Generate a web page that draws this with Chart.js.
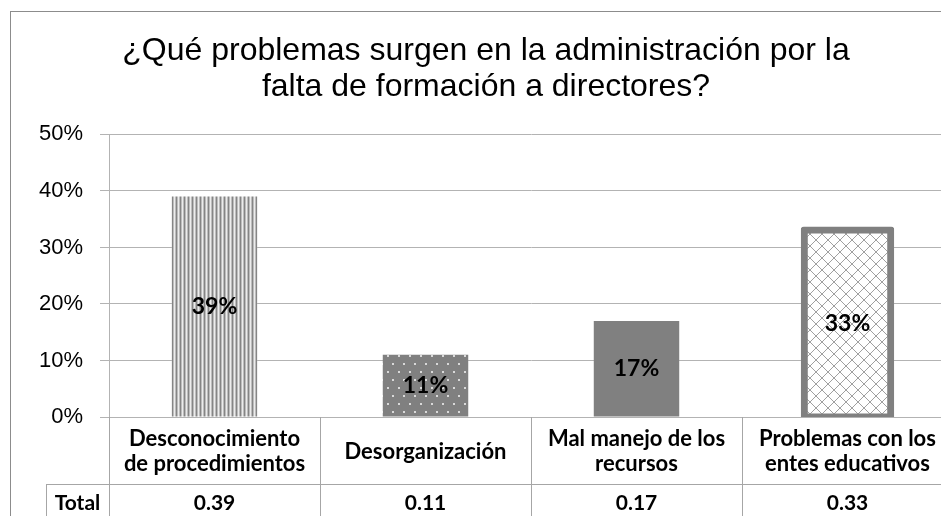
<!DOCTYPE html>
<html>
<head>
<meta charset="utf-8">
<script src="https://cdn.jsdelivr.net/npm/chart.js@4.4.1/dist/chart.umd.min.js"></script>
<style>
  html, body { margin: 0; padding: 0; overflow: hidden; background: #fff; }
  #wrap { position: relative; width: 970px; height: 516px; }
</style>
</head>
<body>
<div id="wrap"><canvas id="chart"></canvas></div>
<script>
// problemas por falta de formación a directores

const titleLines = ['¿Qué problemas surgen en la administración por la', 'falta de formación a directores?'];
const categories = [
  'Desconocimiento de procedimientos',
  'Desorganización',
  'Mal manejo de los recursos',
  'Problemas con los entes educativos'
];
const tickLabels = [
  ['Desconocimiento', 'de procedimientos'],
  ['Desorganización'],
  ['Mal manejo de los', 'recursos'],
  ['Problemas con los', 'entes educativos']
];
const values = [0.39, 0.11, 0.17, 0.33];
const yTicks = [0, 0.1, 0.2, 0.3, 0.4, 0.5];
const rowLabel = 'Total';

const LABEL_FONT = 'Lato';
const ctx = document.getElementById('chart').getContext('2d');

function makePattern(w, h, paint) {
  const c = document.createElement('canvas');
  c.width = w; c.height = h;
  paint(c.getContext('2d'), w, h);
  return ctx.createPattern(c, 'repeat');
}

// narrow vertical stripes
const stripes = makePattern(4, 4, (g, w, h) => {
  g.fillStyle = '#ececec'; g.fillRect(0, 0, w, h);
  g.fillStyle = '#858585'; g.fillRect(0, 0, 1, h);
  g.fillStyle = '#bdbdbd'; g.fillRect(1, 0, 1, h); g.fillRect(3, 0, 1, h);
});
// dark grey with light dots
const dots = makePattern(11, 16, (g, w, h) => {
  g.fillStyle = '#808080'; g.fillRect(0, 0, w, h);
  g.fillStyle = '#d9d9d9';
  g.fillRect(2, 3, 2, 2);
  g.fillRect(7, 11, 2, 2);
});
// diagonal crosshatch
const hatch = makePattern(12, 12, (g, w, h) => {
  g.fillStyle = '#ffffff'; g.fillRect(0, 0, w, h);
  g.strokeStyle = '#a0a0a0'; g.lineWidth = 1;
  g.beginPath();
  g.moveTo(0, 0); g.lineTo(w, h);
  g.moveTo(w, 0); g.lineTo(0, h);
  g.stroke();
});

const frame = {
  id: 'frame',
  beforeDraw(chart) {
    const c = chart.ctx;
    c.save();
    c.fillStyle = '#fff';
    c.fillRect(0, 0, chart.width, chart.height);
    c.strokeStyle = '#8c8c8c';
    c.lineWidth = 1;
    c.strokeRect(10.5, 11.5, chart.width, chart.height);
    c.restore();
  }
};

const barLabels = {
  id: 'barLabels',
  afterDatasetsDraw(chart) {
    const c = chart.ctx;
    c.save();
    c.font = 'bold 23px ' + LABEL_FONT;
    c.fillStyle = '#000';
    c.textAlign = 'center';
    c.textBaseline = 'middle';
    chart.getDatasetMeta(0).data.forEach((bar, i) => {
      const p = bar.getProps(['x', 'y', 'base'], true);
      c.fillText(Math.round(values[i] * 100) + '%', p.x, (p.y + p.base) / 2);
    });
    c.restore();
  }
};

const dataTable = {
  id: 'dataTable',
  afterDraw(chart) {
    const c = chart.ctx;
    const xs = chart.scales.x;
    const area = chart.chartArea;
    const half = (xs.getPixelForValue(1) - xs.getPixelForValue(0)) / 2;
    const rowTop = area.bottom + 67;
    const rowLeft = 46;
    c.save();
    c.strokeStyle = '#a6a6a6';
    c.lineWidth = 1;
    c.beginPath();
    for (let i = 0; i <= categories.length; i++) {
      const bx = Math.round(xs.getPixelForValue(Math.min(i, categories.length - 1)) + (i < categories.length ? -half : half)) + 0.5;
      c.moveTo(bx, area.bottom);
      c.lineTo(bx, chart.height);
    }
    c.moveTo(rowLeft, rowTop + 0.5);
    c.lineTo(chart.width, rowTop + 0.5);
    c.moveTo(rowLeft + 0.5, rowTop);
    c.lineTo(rowLeft + 0.5, chart.height);
    c.stroke();

    c.font = 'bold 21px ' + LABEL_FONT;
    c.fillStyle = '#000';
    c.textAlign = 'center';
    c.textBaseline = 'middle';
    const rowMid = rowTop + 19;
    c.fillText(rowLabel, (rowLeft + xs.getPixelForValue(0) - half) / 2, rowMid);
    values.forEach((v, i) => {
      c.fillText(v.toFixed(2), xs.getPixelForValue(i), rowMid);
    });
    c.restore();
  }
};

new Chart(ctx, {
  type: 'bar',
  data: {
    labels: categories,
    datasets: [{
      label: rowLabel,
      data: values,
      backgroundColor: [stripes, dots, '#808080', hatch],
      borderColor: '#808080',
      borderWidth: [0, 0, 0, 7],
      borderSkipped: false,
      borderRadius: [0, 0, 0, 3],
      inflateAmount: [0, 0, 0, 4],
      categoryPercentage: 1,
      barPercentage: 0.405
    }]
  },
  options: {
    responsive: true,
    maintainAspectRatio: false,
    animation: false,
    layout: { padding: { left: 19, right: 17, top: 0, bottom: 0 } },
    plugins: {
      legend: { display: false },
      tooltip: { enabled: false },
      title: {
        display: true,
        text: titleLines,
        color: '#000',
        font: { family: 'Liberation Sans', size: 32, weight: 'normal', lineHeight: 1.1 },
        padding: { top: 34, bottom: 30 }
      }
    },
    scales: {
      x: {
        grid: { display: false },
        border: { display: true, color: '#b3b3b3' },
        ticks: {
          color: '#000',
          font: { family: LABEL_FONT, size: 22, weight: 'bold', lineHeight: 1.14 },
          padding: 14,
          crossAlign: 'center',
          maxRotation: 0,
          autoSkip: false,
          callback: (v, i) => tickLabels[i]
        },
        afterFit: s => { s.height = 99; }
      },
      y: {
        min: 0,
        max: 0.5,
        afterBuildTicks: s => { s.ticks = yTicks.map(v => ({ value: v })); },
        grid: { color: '#b3b3b3', lineWidth: 1, tickLength: 9 },
        border: { display: true, color: '#b3b3b3' },
        ticks: {
          color: '#000',
          font: { family: 'Liberation Sans', size: 22 },
          padding: 17,
          callback: v => Math.round(v * 100) + '%'
        },
        afterFit: s => { s.width = 90; }
      }
    }
  },
  plugins: [frame, barLabels, dataTable]
});
</script>
</body>
</html>
